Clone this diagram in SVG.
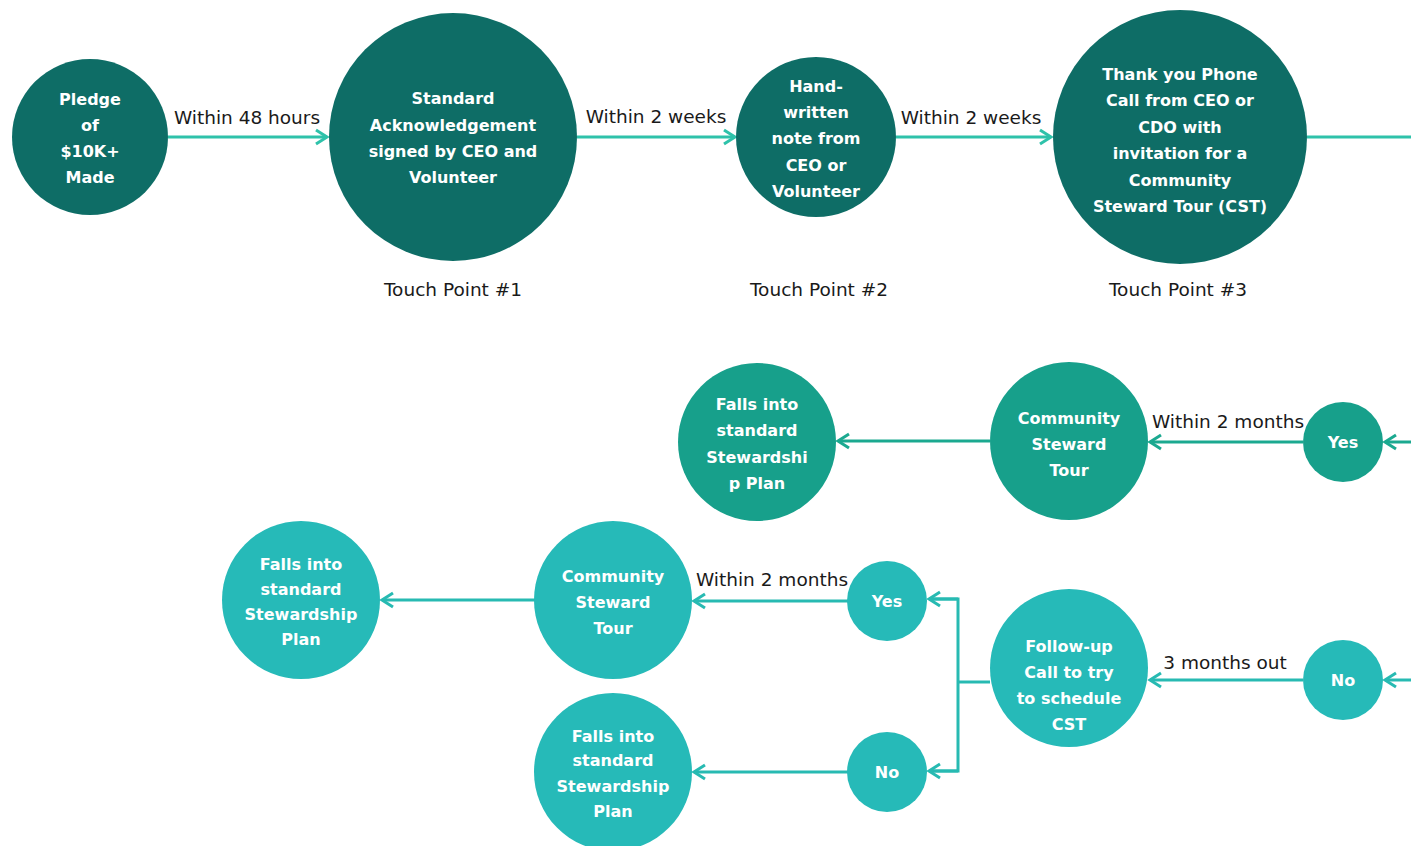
<svg xmlns="http://www.w3.org/2000/svg" width="1411" height="846" viewBox="0 0 1411 846">
<defs>
<style>
.n1{fill:#0e6d66}
.n2{fill:#17a08b}
.n3{fill:#26bab8}
.nt{font-family:"DejaVu Sans",sans-serif;font-weight:bold;font-size:16px;fill:#ffffff;text-anchor:middle}
.lb{font-family:"DejaVu Sans",sans-serif;font-size:18.5px;fill:#1a1a1a;text-anchor:middle}
.tp{font-family:"DejaVu Sans",sans-serif;font-size:18.5px;fill:#1a1a1a;text-anchor:middle}
.c1{stroke:#2ec2aa;stroke-width:3;fill:none}
.c2{stroke:#1ba990;stroke-width:3;fill:none}
.c3{stroke:#27bab2;stroke-width:3;fill:none}
</style>
<marker id="a1" markerUnits="userSpaceOnUse" markerWidth="16" markerHeight="18" refX="13" refY="9" orient="auto" viewBox="0 0 16 18"><path d="M2,2 L13,9 L2,16" fill="none" stroke="#2ec2aa" stroke-width="3"/></marker>
<marker id="a2" markerUnits="userSpaceOnUse" markerWidth="16" markerHeight="18" refX="13" refY="9" orient="auto" viewBox="0 0 16 18"><path d="M2,2 L13,9 L2,16" fill="none" stroke="#1ba990" stroke-width="3"/></marker>
<marker id="a3" markerUnits="userSpaceOnUse" markerWidth="16" markerHeight="18" refX="13" refY="9" orient="auto" viewBox="0 0 16 18"><path d="M2,2 L13,9 L2,16" fill="none" stroke="#27bab2" stroke-width="3"/></marker>
</defs>
<rect width="1411" height="846" fill="#ffffff"/>
<g id="connectors">
<line class="c1" x1="168" y1="137" x2="327" y2="137" marker-end="url(#a1)"/>
<line class="c1" x1="577" y1="137" x2="735" y2="137" marker-end="url(#a1)"/>
<line class="c1" x1="896" y1="137" x2="1051" y2="137" marker-end="url(#a1)"/>
<line class="c1" x1="1307" y1="137" x2="1411" y2="137"/>
<line class="c2" x1="1411" y1="442" x2="1385" y2="442" marker-end="url(#a2)"/>
<line class="c2" x1="1303" y1="442" x2="1150" y2="442" marker-end="url(#a2)"/>
<line class="c2" x1="990" y1="441" x2="838" y2="441" marker-end="url(#a2)"/>
<line class="c3" x1="1411" y1="680" x2="1385" y2="680" marker-end="url(#a3)"/>
<line class="c3" x1="1303" y1="680" x2="1150" y2="680" marker-end="url(#a3)"/>
<polyline class="c3" points="990,682 958,682"/>
<polyline class="c3" points="929,599 958,599 958,771 929,771"/>
<line class="c3" x1="958" y1="599" x2="929" y2="599" marker-end="url(#a3)"/>
<line class="c3" x1="958" y1="771" x2="929" y2="771" marker-end="url(#a3)"/>
<line class="c3" x1="848" y1="601" x2="694" y2="601" marker-end="url(#a3)"/>
<line class="c3" x1="535" y1="600" x2="382" y2="600" marker-end="url(#a3)"/>
<line class="c3" x1="848" y1="772" x2="694" y2="772" marker-end="url(#a3)"/>
<text class="lb" x="247" y="124">Within 48 hours</text>
<text class="lb" x="656" y="123">Within 2 weeks</text>
<text class="lb" x="971" y="124">Within 2 weeks</text>
<text class="lb" x="1228" y="428">Within 2 months</text>
<text class="lb" x="772" y="586">Within 2 months</text>
<text class="lb" x="1225" y="669">3 months out</text>
</g>
<g id="pledge">
<circle class="n1" cx="90" cy="137" r="78"/>
<text class="nt" x="90" y="105">Pledge</text>
<text class="nt" x="90" y="131">of</text>
<text class="nt" x="90" y="157">$10K+</text>
<text class="nt" x="90" y="183">Made</text>
</g>
<g id="standard-ack">
<circle class="n1" cx="453" cy="137" r="124"/>
<text class="nt" x="453" y="104">Standard</text>
<text class="nt" x="453" y="131">Acknowledgement</text>
<text class="nt" x="453" y="157">signed by CEO and</text>
<text class="nt" x="453" y="183">Volunteer</text>
<text class="tp" x="453" y="296">Touch Point #1</text>
</g>
<g id="handwritten">
<circle class="n1" cx="816" cy="137" r="80"/>
<text class="nt" x="816" y="92">Hand-</text>
<text class="nt" x="816" y="118">written</text>
<text class="nt" x="816" y="144">note from</text>
<text class="nt" x="816" y="171">CEO or</text>
<text class="nt" x="816" y="197">Volunteer</text>
<text class="tp" x="819" y="296">Touch Point #2</text>
</g>
<g id="thankyou">
<circle class="n1" cx="1180" cy="137" r="127"/>
<text class="nt" x="1180" y="80">Thank you Phone</text>
<text class="nt" x="1180" y="106">Call from CEO or</text>
<text class="nt" x="1180" y="133">CDO with</text>
<text class="nt" x="1180" y="159">invitation for a</text>
<text class="nt" x="1180" y="186">Community</text>
<text class="nt" x="1180" y="212">Steward Tour (CST)</text>
<text class="tp" x="1178" y="296">Touch Point #3</text>
</g>
<g id="falls-1">
<circle class="n2" cx="757" cy="442" r="79"/>
<text class="nt" x="757" y="410">Falls into</text>
<text class="nt" x="757" y="436">standard</text>
<text class="nt" x="757" y="463">Stewardshi</text>
<text class="nt" x="757" y="489">p Plan</text>
</g>
<g id="cst-1">
<circle class="n2" cx="1069" cy="441" r="79"/>
<text class="nt" x="1069" y="424">Community</text>
<text class="nt" x="1069" y="450">Steward</text>
<text class="nt" x="1069" y="476">Tour</text>
</g>
<g id="yes-1">
<circle class="n2" cx="1343" cy="442" r="40"/>
<text class="nt" x="1343" y="448">Yes</text>
</g>
<g id="no-1">
<circle class="n3" cx="1343" cy="680" r="40"/>
<text class="nt" x="1343" y="686">No</text>
</g>
<g id="followup">
<circle class="n3" cx="1069" cy="668" r="79"/>
<text class="nt" x="1069" y="652">Follow-up</text>
<text class="nt" x="1069" y="678">Call to try</text>
<text class="nt" x="1069" y="704">to schedule</text>
<text class="nt" x="1069" y="730">CST</text>
</g>
<g id="yes-2">
<circle class="n3" cx="887" cy="601" r="40"/>
<text class="nt" x="887" y="607">Yes</text>
</g>
<g id="no-2">
<circle class="n3" cx="887" cy="772" r="40"/>
<text class="nt" x="887" y="778">No</text>
</g>
<g id="cst-2">
<circle class="n3" cx="613" cy="600" r="79"/>
<text class="nt" x="613" y="582">Community</text>
<text class="nt" x="613" y="608">Steward</text>
<text class="nt" x="613" y="634">Tour</text>
</g>
<g id="falls-2">
<circle class="n3" cx="301" cy="600" r="79"/>
<text class="nt" x="301" y="570">Falls into</text>
<text class="nt" x="301" y="595">standard</text>
<text class="nt" x="301" y="620">Stewardship</text>
<text class="nt" x="301" y="645">Plan</text>
</g>
<g id="falls-3">
<circle class="n3" cx="613" cy="772" r="79"/>
<text class="nt" x="613" y="742">Falls into</text>
<text class="nt" x="613" y="766">standard</text>
<text class="nt" x="613" y="792">Stewardship</text>
<text class="nt" x="613" y="817">Plan</text>
</g>
</svg>
